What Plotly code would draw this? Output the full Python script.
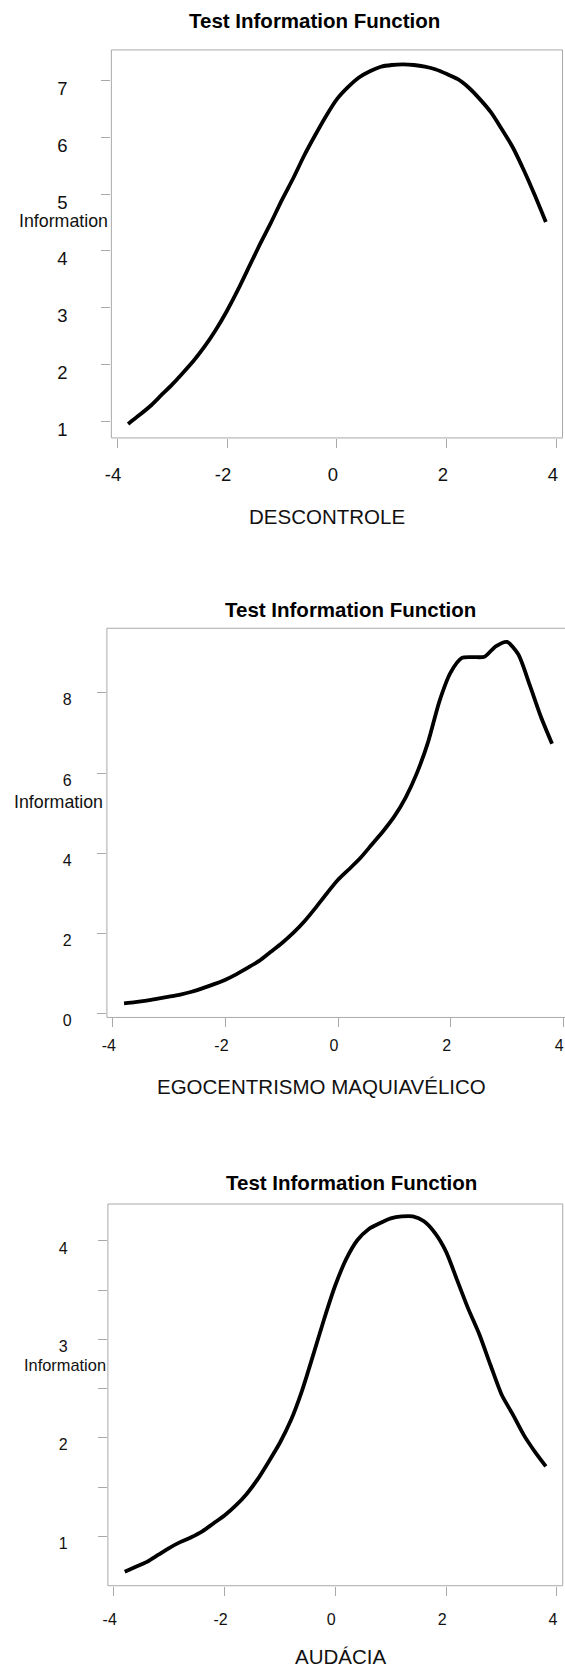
import plotly.graph_objects as go

W, H = 565, 1671

theta = [-3.8, -3.6, -3.4, -3.2, -3.0, -2.8, -2.6, -2.4, -2.2, -2.0,
         -1.8, -1.6, -1.4, -1.2, -1.0, -0.8, -0.6, -0.4, -0.2, 0.0,
         0.2, 0.4, 0.6, 0.8, 1.0, 1.2, 1.4, 1.6, 1.8, 2.0,
         2.2, 2.4, 2.6, 2.8, 3.0, 3.2, 3.4, 3.6, 3.8]

info_descontrole = [0.96, 1.11, 1.27, 1.46, 1.65, 1.86, 2.08, 2.33, 2.62, 2.95,
                    3.32, 3.72, 4.12, 4.50, 4.90, 5.27, 5.67, 6.03, 6.37, 6.67,
                    6.88, 7.05, 7.16, 7.24, 7.27, 7.28, 7.27, 7.24, 7.19, 7.11,
                    7.02, 6.87, 6.67, 6.44, 6.14, 5.82, 5.42, 4.98, 4.51]

info_egocentrismo = [0.26, 0.29, 0.33, 0.38, 0.43, 0.48, 0.55, 0.64, 0.74, 0.85,
                     0.99, 1.15, 1.32, 1.54, 1.76, 2.01, 2.30, 2.64, 3.00, 3.34,
                     3.61, 3.89, 4.22, 4.55, 4.92, 5.39, 6.00, 6.78, 7.79, 8.51,
                     8.87, 8.89, 8.90, 9.16, 9.27, 8.96, 8.21, 7.41, 6.73]

info_audacia = [0.64, 0.69, 0.74, 0.81, 0.88, 0.94, 0.99, 1.05, 1.13, 1.21,
                1.31, 1.43, 1.58, 1.76, 1.95, 2.18, 2.48, 2.84, 3.21, 3.55,
                3.82, 4.01, 4.12, 4.18, 4.23, 4.25, 4.25, 4.20, 4.08, 3.89,
                3.60, 3.31, 3.05, 2.74, 2.44, 2.24, 2.03, 1.86, 1.71]

panel_titles = ["Test Information Function"] * 3
x_titles = ["DESCONTROLE", "EGOCENTRISMO MAQUIAVÉLICO", "AUDÁCIA"]
y_title = "Information"
x_ticks = [-4, -2, 0, 2, 4]
y_ticks_1 = [1, 2, 3, 4, 5, 6, 7]
y_ticks_2 = [0, 2, 4, 6, 8]
y_ticks_3 = [1, 1.5, 2, 2.5, 3, 3.5, 4]
y_ticktext_3 = ["1", "", "2", "", "3", "", "4"]

series = [info_descontrole, info_egocentrismo, info_audacia]

FONT = "Liberation Sans, Arial, Helvetica, sans-serif"
GRAY = "#a9a9a9"
TXT = "#111111"

# pixel layout of each panel: (left, right, top, bottom)
boxes = [(106.5, 562.5, 50.3, 441.1), (102, 565, 632.8, 1024.8), (103, 562.7, 1212.7, 1597.2)]
xranges = [[-4.104, 4.104], [-4.104, 4.03], [-4.104, 4.104]]
yranges = [[0.713, 7.535], [-0.09, 9.61], [0.497, 4.376]]
tickfs = [18.5, 16, 16]
ystandoff = [30, 22, 27]
yshift = [8, 7, 7]
xstandoff = [11, 4, 10]
xshift = [-4, -4, -4]

fig = go.Figure()

def px_x(p):
    return p / W

def px_y(p):
    return 1 - p / H

for i in range(3):
    n = "" if i == 0 else str(i + 1)
    fig.add_trace(go.Scatter(x=theta, y=series[i], mode="lines",
                             line=dict(color="black", width=3.8, shape="spline", smoothing=0.7),
                             xaxis="x" + n, yaxis="y" + n, showlegend=False,
                             hoverinfo="skip"))
    L, R, T, B = boxes[i]
    xa = dict(domain=[px_x(L), px_x(R)], range=xranges[i], anchor="y" + n,
              tickmode="array", tickvals=x_ticks, ticktext=[str(v) for v in x_ticks],
              ticks="outside", ticklen=9, tickcolor=GRAY, tickwidth=1,
              showgrid=False, zeroline=False, showline=False,
              tickfont=dict(family=FONT, size=tickfs[i], color=TXT),
              ticklabelstandoff=xstandoff[i], ticklabelshift=xshift[i],
              fixedrange=True)
    if i == 0:
        yv, yt = y_ticks_1, [str(v) for v in y_ticks_1]
    elif i == 1:
        yv, yt = y_ticks_2, [str(v) for v in y_ticks_2]
    else:
        yv, yt = y_ticks_3, y_ticktext_3
    ya = dict(domain=[px_y(B), px_y(T)], range=yranges[i], anchor="x" + n,
              tickmode="array", tickvals=yv, ticktext=yt,
              ticks="outside", ticklen=9, tickcolor=GRAY, tickwidth=1,
              showgrid=False, zeroline=False, showline=False,
              tickfont=dict(family=FONT, size=tickfs[i], color=TXT),
              ticklabelstandoff=ystandoff[i], ticklabelshift=yshift[i],
              fixedrange=True)
    fig.update_layout(**{"xaxis" + n: xa, "yaxis" + n: ya})

    # panel frame
    xd, yd = "x" + n + " domain", "y" + n + " domain"
    sides = [(0, 0, 0, 1), (0, 1, 1, 1), (0, 1, 0, 0)]
    if i != 1:
        sides.append((1, 1, 0, 1))
    for x0, x1, y0, y1 in sides:
        fig.add_shape(type="line", xref=xd, yref=yd, x0=x0, x1=x1, y0=y0, y1=y1,
                      line=dict(color=GRAY, width=1))

title_pos = [(311.8, 20.6), (348, 613.7), (348.9, 1191)]
info_pos = [(58.5, 222.8), (53, 808), (59.8, 1374.8)]
xt_pos = [(324.6, 520), (319.3, 1094.5), (338.1, 1668)]
info_fs = [17.8, 17.8, 16.4]

for i in range(3):
    fig.add_annotation(text="<b>" + panel_titles[i] + "</b>", xref="paper", yref="paper",
                       x=px_x(title_pos[i][0]), y=px_y(title_pos[i][1]),
                       xanchor="center", yanchor="middle", showarrow=False,
                       font=dict(family=FONT, size=20.5, color="black"))
    fig.add_annotation(text=y_title, xref="paper", yref="paper",
                       x=px_x(info_pos[i][0]), y=px_y(info_pos[i][1]),
                       xanchor="center", yanchor="middle", showarrow=False,
                       font=dict(family=FONT, size=info_fs[i], color=TXT))
    fig.add_annotation(text=x_titles[i], xref="paper", yref="paper",
                       x=px_x(xt_pos[i][0]), y=px_y(xt_pos[i][1]),
                       xanchor="center", yanchor="middle", showarrow=False,
                       font=dict(family=FONT, size=20.5, color=TXT))

fig.update_layout(width=W, height=H, margin=dict(l=0, r=0, t=0, b=0),
                  paper_bgcolor="white", plot_bgcolor="white",
                  showlegend=False)

fig.write_html("out.html", config={"displayModeBar": False},
               post_script="document.body.style.margin='0';document.body.style.padding='0';"
                           "document.body.style.overflow='hidden';")
